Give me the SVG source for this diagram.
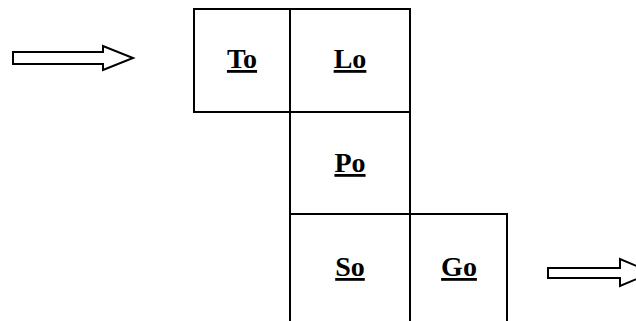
<svg xmlns="http://www.w3.org/2000/svg" width="636" height="321" viewBox="0 0 636 321">
<style>
.box{fill:none;stroke:#000;stroke-width:2}
.arrow{fill:#fff;stroke:#000;stroke-width:2;stroke-linejoin:miter}
.lbl{font-family:"Liberation Serif","Times New Roman",serif;font-weight:bold;font-size:28px;text-anchor:middle;text-decoration:underline;fill:#000}
</style>
<rect width="636" height="321" fill="#fff"/>
<g id="connectors">
<polygon class="arrow" points="13,52 103,52 103,46 133,58 103,70 103,64 13,64"/>
<polygon class="arrow" points="548,268 620,268 620,259 652,272.5 620,286 620,278 548,278"/>
</g>
<g id="node-To">
<rect class="box" x="194" y="9" width="96" height="103"/>
<text class="lbl" x="242" y="68">To</text>
</g>
<g id="node-Lo">
<rect class="box" x="290" y="9" width="120" height="103"/>
<text class="lbl" x="350" y="68">Lo</text>
</g>
<g id="node-Po">
<rect class="box" x="290" y="112" width="120" height="102"/>
<text class="lbl" x="350" y="172">Po</text>
</g>
<g id="node-So">
<path class="box" d="M290,322 V214 H410 V322"/>
<text class="lbl" x="350" y="276">So</text>
</g>
<g id="node-Go">
<path class="box" d="M410,214 H507 V322"/>
<text class="lbl" x="459" y="276">Go</text>
</g>
</svg>
